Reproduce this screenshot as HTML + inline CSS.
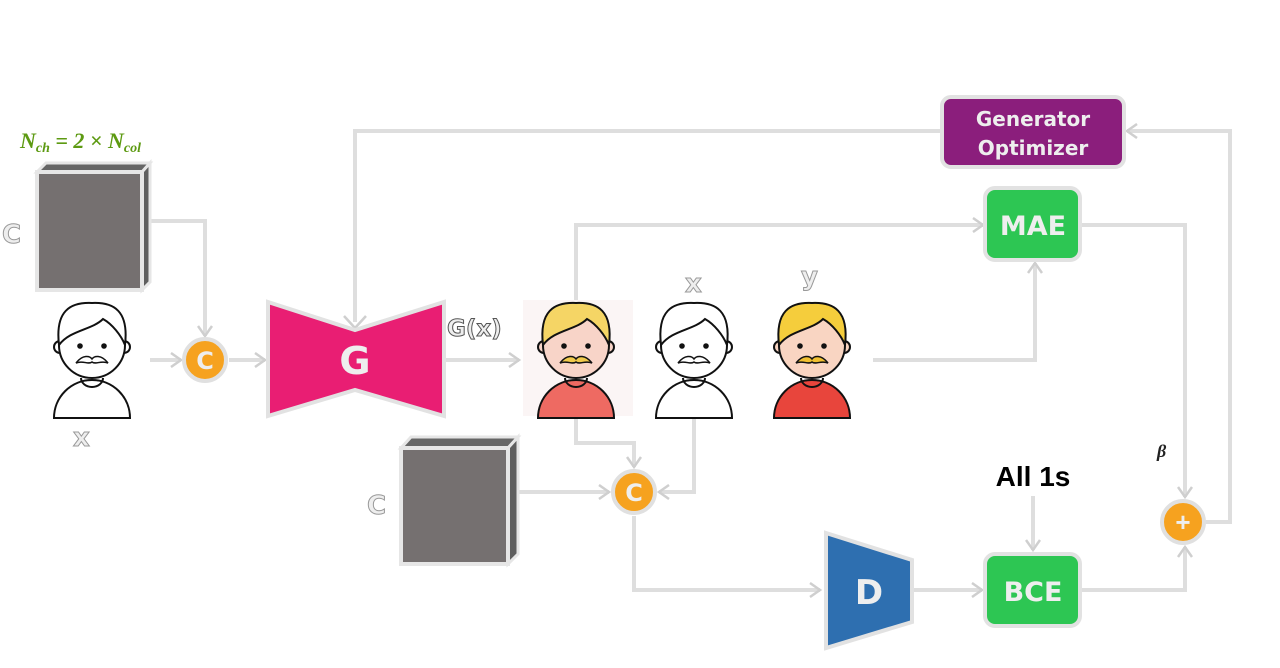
<!DOCTYPE html>
<html><head><meta charset="utf-8"><style>
html,body{margin:0;padding:0;background:#fff;width:1280px;height:668px;overflow:hidden}
svg{display:block}
.hand{font-family:"Comic Sans MS","DejaVu Sans",sans-serif}
</style></head><body>
<svg width="1280" height="668" viewBox="0 0 1280 668" xmlns="http://www.w3.org/2000/svg">
<defs>
<marker id="ah" viewBox="0 0 16 16" refX="13" refY="8" markerWidth="16" markerHeight="16" markerUnits="userSpaceOnUse" orient="auto">
<path d="M3,1 L13,8 L3,15" fill="none" stroke="#cfcfcf" stroke-width="2.5"/>
</marker>
<g id="man">
<path d="M-38,63 A38,38 0 0 1 38,63 Z" fill="var(--shirt)" stroke="#111" stroke-width="2"/>
<circle cx="-32" cy="-8" r="6" fill="var(--skin)" stroke="#111" stroke-width="2"/>
<circle cx="32" cy="-8" r="6" fill="var(--skin)" stroke="#111" stroke-width="2"/>
<circle cx="0" cy="-10" r="33" fill="var(--skin)" stroke="#111" stroke-width="2"/>
<path d="M-33,-10 C-37,-44 -22,-53 0,-52 C22,-53 37,-44 33,-10 C29,-20 20,-31 11,-36 C0,-25 -22,-25 -33,-10 Z" fill="var(--hair)" stroke="#111" stroke-width="2"/>
<circle cx="-12" cy="-9" r="2.8" fill="#111"/><circle cx="12" cy="-9" r="2.8" fill="#111"/>
<path d="M-16,8 C-9,-1 -2,1 0,4 C2,1 9,-1 16,8 C9,5 4,10 0,7 C-4,10 -9,5 -16,8Z" fill="var(--must)" stroke="#111" stroke-width="1.5"/>
<path d="M-11,23 A11,9 0 0 0 11,23" fill="none" stroke="#111" stroke-width="2"/>
</g>
</defs>

<g fill="none" stroke="#dedede" stroke-width="4">
<path d="M355,322 V131 H940"/>
<path d="M1205,522 H1230 V131 H1127" marker-end="url(#ah)"/>
<path d="M142,221 H205 V336" marker-end="url(#ah)"/>
<path d="M150,360 H181" marker-end="url(#ah)"/>
<path d="M229,360 H265" marker-end="url(#ah)"/>
<path d="M445,360 H519" marker-end="url(#ah)"/>
<path d="M576,300 V225 H983" marker-end="url(#ah)"/>
<path d="M873,360 H1035 V263" marker-end="url(#ah)"/>
<path d="M1080,225 H1185 V497" marker-end="url(#ah)"/>
<path d="M576,417 V443 H634 V467" marker-end="url(#ah)"/>
<path d="M694,417 V492 H659" marker-end="url(#ah)"/>
<path d="M512,492 H609" marker-end="url(#ah)"/>
<path d="M634,516 V590 H820" marker-end="url(#ah)"/>
<path d="M914,590 H982" marker-end="url(#ah)"/>
<path d="M1033,496 V550" marker-end="url(#ah)"/>
<path d="M1080,590 H1185 V547" marker-end="url(#ah)"/>
</g>
<path d="M344,316 L355,328 L366,316" fill="none" stroke="#cfcfcf" stroke-width="2.5"/>

<text x="20" y="148" font-family="Liberation Serif,serif" font-style="italic" font-weight="bold" font-size="22" fill="#5d9a12">N<tspan font-size="14" dy="4">ch</tspan><tspan dy="-4"> = 2 × N</tspan><tspan font-size="14" dy="4">col</tspan></text>

<polygon points="37,172 46,163 150,163 142,172" fill="#666" stroke="#e6e6e6" stroke-width="3"/>
<polygon points="142,172 150,163 150,282 142,290" fill="#5f5f5f" stroke="#e6e6e6" stroke-width="3"/>
<rect x="37" y="172" width="105" height="118" fill="#757070" stroke="#e6e6e6" stroke-width="4"/>
<text x="2" y="243" class="hand" font-size="26" font-weight="bold" fill="#eee" stroke="#999" stroke-width="1">C</text>

<polygon points="401,448 411,437 518,437 508,448" fill="#666" stroke="#e6e6e6" stroke-width="3"/>
<polygon points="508,448 518,437 518,554 508,564" fill="#5f5f5f" stroke="#e6e6e6" stroke-width="3"/>
<rect x="401" y="448" width="107" height="116" fill="#757070" stroke="#e6e6e6" stroke-width="4"/>
<text x="367" y="514" class="hand" font-size="26" font-weight="bold" fill="#eee" stroke="#999" stroke-width="1">C</text>

<g transform="translate(92,355)" style="--skin:#fff;--hair:#fff;--shirt:#fff;--must:#fff"><use href="#man"/></g>
<text x="73" y="446" class="hand" font-size="26" font-weight="bold" fill="#eee" stroke="#999" stroke-width="1">x</text>
<rect x="523" y="300" width="110" height="116" fill="#fbf5f5"/>
<g transform="translate(576,355)" style="--skin:#f8d4c8;--hair:#f5d565;--shirt:#ee6a62;--must:#f0c94a"><use href="#man"/></g>
<g transform="translate(694,355)" style="--skin:#fff;--hair:#fff;--shirt:#fff;--must:#fff"><use href="#man"/></g>
<text x="685" y="292" class="hand" font-size="26" font-weight="bold" fill="#eee" stroke="#999" stroke-width="1">x</text>
<g transform="translate(812,355)" style="--skin:#f9d5c2;--hair:#f5cd3c;--shirt:#e8453c;--must:#f0c030"><use href="#man"/></g>
<text x="801" y="285" class="hand" font-size="26" font-weight="bold" fill="#eee" stroke="#999" stroke-width="1">y</text>

<circle cx="205" cy="360" r="21" fill="#f6a21f" stroke="#e0e0e0" stroke-width="4"/>
<text x="205" y="369" text-anchor="middle" class="hand" font-weight="bold" font-size="24" fill="#eee">C</text>
<circle cx="634" cy="492" r="21" fill="#f6a21f" stroke="#e0e0e0" stroke-width="4"/>
<text x="634" y="501" text-anchor="middle" class="hand" font-weight="bold" font-size="24" fill="#eee">C</text>
<circle cx="1183" cy="522" r="21" fill="#f6a21f" stroke="#e0e0e0" stroke-width="4"/>
<text x="1183" y="531" text-anchor="middle" font-family="Liberation Sans,sans-serif" font-weight="bold" font-size="26" fill="#eee">+</text>

<polygon points="268,302 355,330 444,302 444,416 355,390 268,416" fill="#e91e73" stroke="#e2e2e2" stroke-width="4"/>
<text x="355" y="374" text-anchor="middle" class="hand" font-weight="bold" font-size="38" fill="#eee">G</text>
<text x="447" y="336" class="hand" font-size="23" font-weight="bold" fill="#eee" stroke="#555" stroke-width="1">G(x)</text>

<rect x="942" y="97" width="182" height="70" rx="9" fill="#8b1e7c" stroke="#e2e2e2" stroke-width="4"/>
<text x="1033" y="126" text-anchor="middle" class="hand" font-weight="bold" font-size="20" fill="#eee">Generator</text>
<text x="1033" y="155" text-anchor="middle" class="hand" font-weight="bold" font-size="20" fill="#eee">Optimizer</text>

<rect x="985" y="188" width="95" height="72" rx="10" fill="#2dc653" stroke="#e2e2e2" stroke-width="4"/>
<text x="1033" y="235" text-anchor="middle" class="hand" font-weight="bold" font-size="27" fill="#eee">MAE</text>

<rect x="985" y="554" width="95" height="72" rx="10" fill="#2dc653" stroke="#e2e2e2" stroke-width="4"/>
<text x="1033" y="601" text-anchor="middle" class="hand" font-weight="bold" font-size="27" fill="#eee">BCE</text>
<text x="1033" y="486" text-anchor="middle" font-family="Liberation Sans,sans-serif" font-weight="bold" font-size="28" fill="#000">All 1s</text>
<text x="1157" y="457" font-family="Liberation Serif,serif" font-style="italic" font-weight="bold" font-size="18" fill="#222">β</text>

<polygon points="826,533 912,560 912,622 826,648" fill="#2e6fb0" stroke="#e2e2e2" stroke-width="4"/>
<text x="869" y="604" text-anchor="middle" class="hand" font-weight="bold" font-size="34" fill="#eee">D</text>
</svg>
</body></html>
